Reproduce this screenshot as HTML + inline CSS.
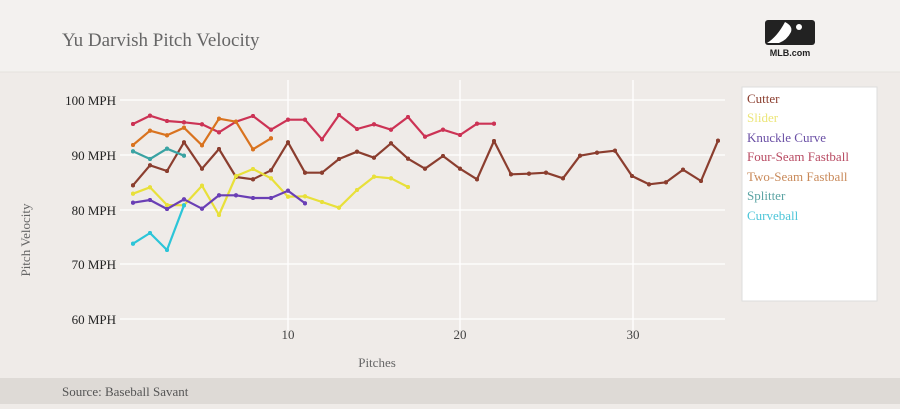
<!DOCTYPE html>
<html><head><style>
body{margin:0;width:900px;height:404px;overflow:hidden;background:#efebe8;font-family:"Liberation Serif",serif}
</style></head><body>
<svg width="900" height="404" xmlns="http://www.w3.org/2000/svg" font-family="Liberation Serif, serif">
<defs>
<marker id="d1" viewBox="0 0 10 10" refX="5" refY="5" markerWidth="2" markerHeight="2"><circle cx="5" cy="5" r="5" fill="#8b3e2f"/></marker>
<marker id="d2" viewBox="0 0 10 10" refX="5" refY="5" markerWidth="2" markerHeight="2"><circle cx="5" cy="5" r="5" fill="#e8e03a"/></marker>
<marker id="d3" viewBox="0 0 10 10" refX="5" refY="5" markerWidth="2" markerHeight="2"><circle cx="5" cy="5" r="5" fill="#6a3fb5"/></marker>
<marker id="d4" viewBox="0 0 10 10" refX="5" refY="5" markerWidth="2" markerHeight="2"><circle cx="5" cy="5" r="5" fill="#cc3355"/></marker>
<marker id="d5" viewBox="0 0 10 10" refX="5" refY="5" markerWidth="2" markerHeight="2"><circle cx="5" cy="5" r="5" fill="#d9731f"/></marker>
<marker id="d6" viewBox="0 0 10 10" refX="5" refY="5" markerWidth="2" markerHeight="2"><circle cx="5" cy="5" r="5" fill="#3aa3a3"/></marker>
<marker id="d7" viewBox="0 0 10 10" refX="5" refY="5" markerWidth="2" markerHeight="2"><circle cx="5" cy="5" r="5" fill="#2cc5d8"/></marker>
</defs>
<rect x="0" y="0" width="900" height="404" fill="#efebe8"/>
<rect x="0" y="0" width="900" height="72" fill="#f3f1ef"/>
<line x1="0" y1="72" x2="900" y2="72" stroke="#e6e2de"/>
<text x="62" y="46" font-size="19" fill="#666">Yu Darvish Pitch Velocity</text>
<g>
<rect x="765" y="20" width="50" height="25" rx="3" fill="#222"/>
<path d="M785 22 q8 4 6 10 q-4 8 -12 11 l-12 0 q10-6 18-21z" fill="#fff"/>
<circle cx="799" cy="27" r="3" fill="#fff"/>
<text x="790" y="56" font-family="Liberation Sans, sans-serif" font-size="9" font-weight="bold" text-anchor="middle" fill="#222">MLB.com</text>
</g>
<g stroke="#fff" stroke-width="1.3">
<line x1="120" y1="100" x2="725" y2="100"/><line x1="120" y1="155" x2="725" y2="155"/>
<line x1="120" y1="210" x2="725" y2="210"/><line x1="120" y1="264" x2="725" y2="264"/>
<line x1="120" y1="319" x2="725" y2="319"/>
<line x1="288" y1="80" x2="288" y2="330"/><line x1="460" y1="80" x2="460" y2="330"/><line x1="633" y1="80" x2="633" y2="330"/>
</g>
<g font-size="13" fill="#222" text-anchor="end">
<text x="116" y="105">100 MPH</text><text x="116" y="160">90 MPH</text><text x="116" y="215">80 MPH</text><text x="116" y="269">70 MPH</text><text x="116" y="324">60 MPH</text>
</g>
<g font-size="13" fill="#444" text-anchor="middle">
<text x="288" y="339">10</text><text x="460" y="339">20</text><text x="633" y="339">30</text>
<text x="377" y="367" fill="#666">Pitches</text>
</g>
<text transform="translate(30,240) rotate(-90)" font-size="13" fill="#666" text-anchor="middle">Pitch Velocity</text>
<g fill="none" stroke-width="2.2" stroke-linejoin="round">
<polyline stroke="#8b3e2f" marker-start="url(#d1)" marker-mid="url(#d1)" marker-end="url(#d1)" points="133,185.3 150,165.3 167,171 184,142.3 202,168.7 219,149 236,177 253,179.3 271,170.3 288,142.3 305,172.7 322,172.7 339,159 357,151.7 374,157.7 391,143.3 408,158.7 425,168.7 443,156 460,168.7 477,179.3 494,141 511,174.3 529,173.7 546,172.7 563,178.3 580,155.7 597,152.7 615,150.7 632,176 649,184.3 666,182.3 683,169.7 701,181 718,140.7"/>
<polyline stroke="#e8e03a" marker-start="url(#d2)" marker-mid="url(#d2)" marker-end="url(#d2)" points="133,193.7 150,187.3 167,205 184,205.3 202,185.7 219,215 236,176 253,169 271,178.3 288,196.7 305,196.3 322,202 339,207.7 357,190 374,176.7 391,178.3 408,187"/>
<polyline stroke="#6a3fb5" marker-start="url(#d3)" marker-mid="url(#d3)" marker-end="url(#d3)" points="133,202.7 150,200 167,209 184,199.3 202,208.7 219,195.3 236,195.3 253,198 271,198 288,190.7 305,203.3"/>
<polyline stroke="#cc3355" marker-start="url(#d4)" marker-mid="url(#d4)" marker-end="url(#d4)" points="133,124 150,115.7 167,121 184,122.3 202,124.3 219,132.3 236,121.7 253,116 271,129.7 288,119.7 305,119.7 322,139.3 339,115 357,129 374,124.3 391,129.7 408,117 425,136.7 443,129.7 460,135 477,123.7 494,123.7"/>
<polyline stroke="#d9731f" marker-start="url(#d5)" marker-mid="url(#d5)" marker-end="url(#d5)" points="133,145 150,130.7 167,135.3 184,127.7 202,145.3 219,118.7 236,121.7 253,149.3 271,138.3"/>
<polyline stroke="#3aa3a3" marker-start="url(#d6)" marker-mid="url(#d6)" marker-end="url(#d6)" points="133,151.3 150,159 167,148.7 184,155.7"/>
<polyline stroke="#2cc5d8" marker-start="url(#d7)" marker-mid="url(#d7)" marker-end="url(#d7)" points="133,243.7 150,233 167,250 184,205.3"/>
</g>
<rect x="742" y="87" width="135" height="214" fill="#fff" stroke="#ddd"/>
<g font-size="13">
<text x="747" y="103" fill="#8b3e2f">Cutter</text>
<text x="747" y="122" fill="#ece67a">Slider</text>
<text x="747" y="142" fill="#6a4fa5">Knuckle Curve</text>
<text x="747" y="161" fill="#b84a62">Four-Seam Fastball</text>
<text x="747" y="181" fill="#c98a5a">Two-Seam Fastball</text>
<text x="747" y="200" fill="#5aa3a3">Splitter</text>
<text x="747" y="220" fill="#4cc5d8">Curveball</text>
</g>
<rect x="0" y="378" width="900" height="26" fill="#dedad6"/>
<text x="62" y="396" font-size="13" fill="#555">Source: Baseball Savant</text>
</svg>
</body></html>
